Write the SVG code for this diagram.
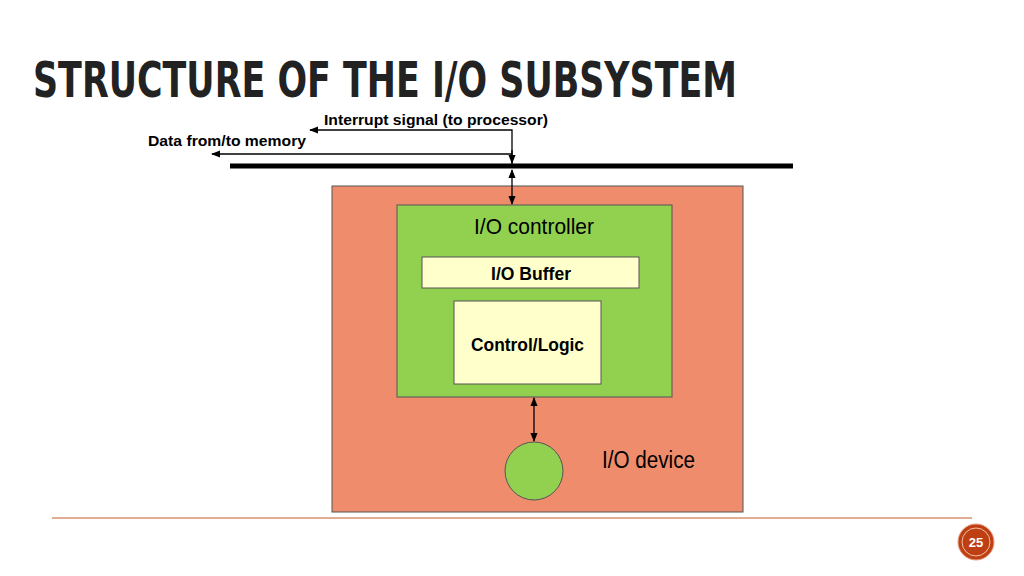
<svg xmlns="http://www.w3.org/2000/svg" width="1024" height="576" viewBox="0 0 1024 576">
<defs>
<marker id="ah" viewBox="0 0 10 10" refX="9" refY="5" markerWidth="7" markerHeight="7" orient="auto-start-reverse"><path d="M0,1 L10,5 L0,9 z" fill="#000"/></marker>
<style>
.t{font-family:"Liberation Sans",Arial,sans-serif;fill:#000}
.ln{stroke:#000;stroke-width:1.3;fill:none}
</style>
</defs>
<rect width="1024" height="576" fill="#fff"/>
<text x="33" y="97" font-family="DejaVu Sans Condensed,Liberation Sans,sans-serif" font-weight="bold" font-size="50" fill="#222" textLength="704" lengthAdjust="spacingAndGlyphs">STRUCTURE OF THE I/O SUBSYSTEM</text>
<g id="device"><rect x="332" y="186" width="411" height="326" fill="#ef8c6c" stroke="#555" stroke-width="1"/>
<text class="t" x="602" y="468" font-size="23" textLength="93" lengthAdjust="spacingAndGlyphs">I/O device</text></g>
<g id="controller"><rect x="397" y="205" width="275" height="192" fill="#92d050" stroke="#555" stroke-width="1"/>
<text class="t" x="474" y="234" font-size="22" textLength="120" lengthAdjust="spacingAndGlyphs">I/O controller</text></g>
<g id="buffer"><rect x="422" y="257" width="217" height="31" fill="#ffffcc" stroke="#555" stroke-width="1"/>
<text class="t" x="491" y="280" font-size="18" font-weight="bold" textLength="80" lengthAdjust="spacingAndGlyphs">I/O Buffer</text></g>
<g id="logic"><rect x="454" y="301" width="147" height="83" fill="#ffffcc" stroke="#555" stroke-width="1"/>
<text class="t" x="471" y="351" font-size="18" font-weight="bold" textLength="113" lengthAdjust="spacingAndGlyphs">Control/Logic</text></g>
<g id="circle"><circle cx="534" cy="471" r="29" fill="#92d050" stroke="#555" stroke-width="1"/></g>
<g id="bus"><line x1="230" y1="166" x2="793" y2="166" stroke="#000" stroke-width="5"/></g>
<g id="connectors">
<polyline class="ln" points="512,166 512,130 310,130" marker-end="url(#ah)"/>
<polyline class="ln" points="512,154 212,154" marker-end="url(#ah)"/>
<line class="ln" x1="512" y1="150" x2="512" y2="163" marker-end="url(#ah)"/>
<line class="ln" x1="512" y1="170" x2="512" y2="204" marker-start="url(#ah)" marker-end="url(#ah)"/>
<line class="ln" x1="534" y1="398" x2="534" y2="441" marker-start="url(#ah)" marker-end="url(#ah)"/>
</g>
<text class="t" x="324" y="125" font-size="15" font-weight="bold" textLength="224" lengthAdjust="spacingAndGlyphs">Interrupt signal (to processor)</text>
<text class="t" x="148" y="146" font-size="15" font-weight="bold" textLength="158" lengthAdjust="spacingAndGlyphs">Data from/to memory</text>
<line x1="52" y1="518" x2="972" y2="518" stroke="#c55a2a" stroke-width="1"/>
<circle cx="976" cy="542" r="18" fill="#bf3f14" stroke="#e8a080" stroke-width="1"/>
<circle cx="976" cy="542" r="14" fill="none" stroke="#f0c0a0" stroke-width="1"/>
<text x="976" y="547" font-family="Liberation Sans,sans-serif" font-weight="bold" font-size="13" fill="#fff" text-anchor="middle">25</text>
</svg>
